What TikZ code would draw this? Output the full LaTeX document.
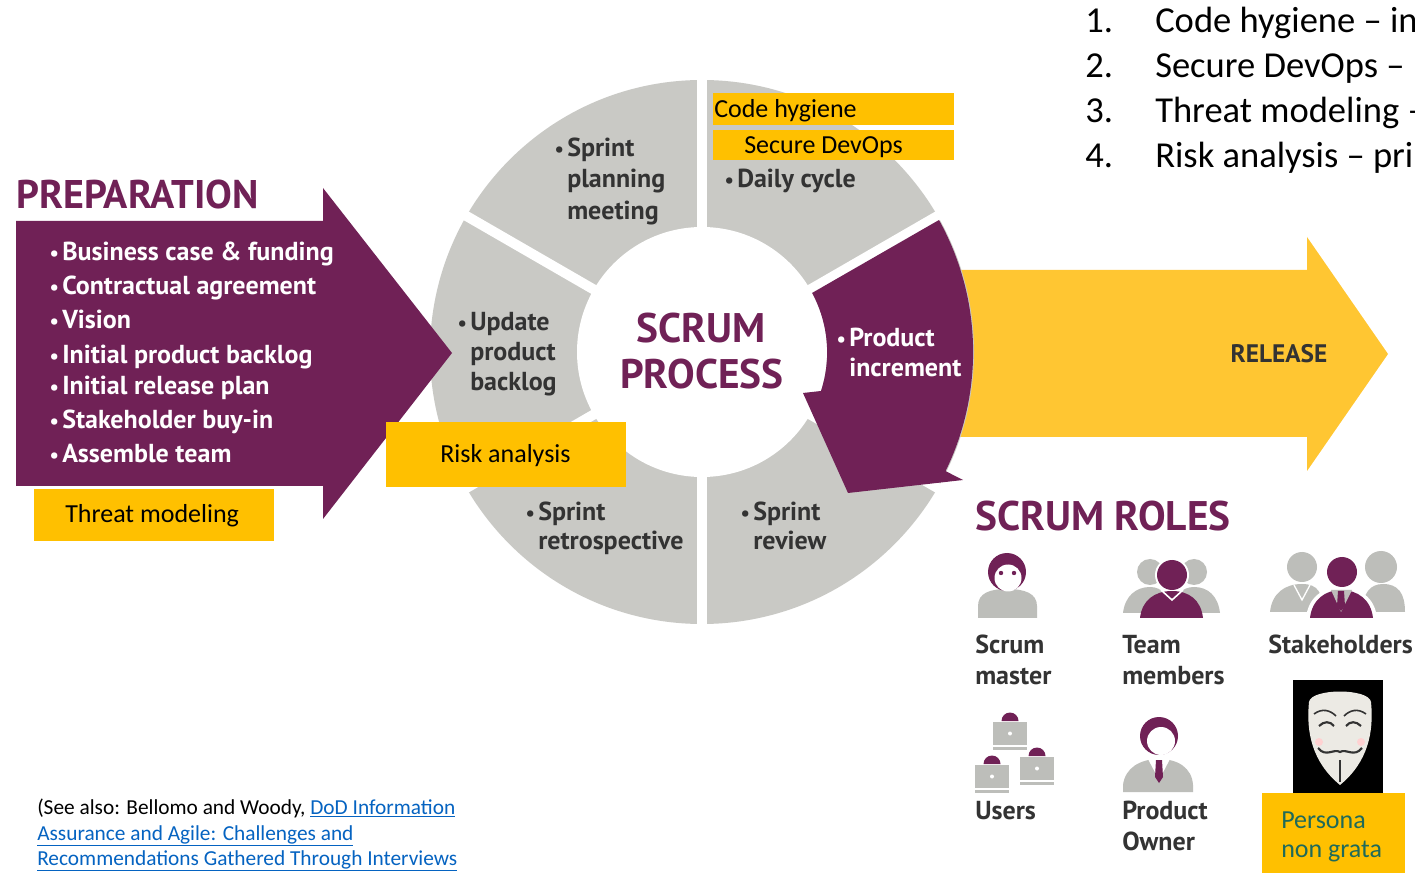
\documentclass[tikz,border=0pt]{standalone}
\usepackage{fontspec}
\setmainfont{Carlito}
\newfontfamily\frank{PT Sans}
\usetikzlibrary{calc}
\definecolor{scrumpurple}{HTML}{702156}
\definecolor{wheelgray}{HTML}{C9C9C5}
\definecolor{icongray}{HTML}{BDBEBA}
\definecolor{releaseyellow}{HTML}{FFC632}
\definecolor{markyellow}{HTML}{FFC000}
\definecolor{linkblue}{HTML}{0563C1}
\definecolor{textgray}{HTML}{333333}
\definecolor{personagreen}{HTML}{1F6A5A}
\definecolor{maskwhite}{HTML}{ECEAE4}
\newcommand\bul{\llap{\scalebox{0.8}{•}\hspace{2.5pt}}}
\tikzset{
	prepitem/.style={anchor=base west, inner sep=0pt, text=white,
		font=\frank\bfseries\fontsize{19.5}{22}\selectfont},
	wheelitem/.style={anchor=base west, inner sep=0pt, text=textgray,
		font=\frank\bfseries\fontsize{19.5}{22}\selectfont},
	heading/.style={anchor=base west, inner sep=0pt, text=scrumpurple,
		font=\frank\bfseries\fontsize{31}{34}\selectfont},
	markbox/.style={fill=markyellow},
	marktext/.style={anchor=base west, inner sep=0pt,
		font=\fontsize{19.5}{23}\selectfont},
	rolelabel/.style={anchor=base west, inner sep=0pt, text=textgray,
		font=\frank\bfseries\fontsize{19.5}{22}\selectfont},
	listtext/.style={anchor=base west, inner sep=0pt,
		font=\fontsize{27.4}{33}\selectfont},
	notetext/.style={anchor=base west, inner sep=0pt,
		font=\fontsize{16}{19}\selectfont},
}
\begin{document}
\begin{tikzpicture}[x=0.75pt, y=-0.75pt]
	\clip (0,0) rectangle (1415,873);
	\fill[white] (0,0) rectangle (1415,873);
	% release arrow
	\fill[releaseyellow] (955,270) -- (1307,270) -- (1307,237) -- (1388,354)
		-- (1307,471) -- (1307,437) -- (955,437) -- cycle;
	\node[font=\frank\bfseries\fontsize{19}{22}\selectfont, text=textgray, anchor=base, inner sep=0pt]
		(release) at (1279,363) {RELEASE};
	% scrum wheel
	\coordinate (c) at (702,352);
	\fill[wheelgray] (c) circle (272);
	\foreach \a in {30,90,...,330}
		\draw[white, line width=7.5pt] (c) -- ++(\a:290);
	\fill[white] (c) circle (125);
	\fill[scrumpurple] (812,293) -- (939,220) arc[start angle=-29, end angle=26, radius=272]
		-- (963,480) -- (848,493) -- (803,393) -- (821,391)
		arc[start angle=18, end angle=-28, radius=125] -- cycle;
	% preparation arrow
	\fill[scrumpurple] (16,221) -- (323,221) -- (323,188) -- (452,353)
		-- (323,519) -- (323,486) -- (16,486) -- cycle;
	\node[heading, font=\frank\bfseries\fontsize{30}{34}\selectfont] (prep) at (16,209) {PREPARATION};
	\foreach \y/\txt in {261/Business case \& funding, 295/Contractual agreement,
		329/Vision, 364/Initial product backlog, 395/Initial release plan,
		429/Stakeholder buy-in, 463/Assemble team}
		\node[prepitem] at (62,\y) {\bul\txt};
	% wheel texts
	\node[wheelitem] (plan1) at (567,157) {\bul Sprint};
	\node[wheelitem] (plan2) at (567,188) {planning};
	\node[wheelitem] (plan3) at (567,220) {meeting};
	\node[wheelitem] (daily) at (737,188) {\bul Daily cycle};
	\node[wheelitem] (upd1) at (470,331) {\bul Update};
	\node[wheelitem] (upd2) at (470,361) {product};
	\node[wheelitem] (upd3) at (470,391) {backlog};
	\node[wheelitem, text=white] (inc1) at (849,347) {\bul Product};
	\node[wheelitem, text=white] (inc2) at (849,377) {increment};
	\node[wheelitem] (retro1) at (538,521) {\bul Sprint};
	\node[wheelitem] (retro2) at (538,550) {retrospective};
	\node[wheelitem] (rev1) at (753,521) {\bul Sprint};
	\node[wheelitem] (rev2) at (753,550) {review};
	\node[heading, anchor=base] (scrum) at (701,343) {SCRUM};
	\node[heading, anchor=base] (process) at (702,389) {PROCESS};
	% yellow marks
	\fill[markyellow] (713,93) rectangle (954,125);
	\fill[markyellow] (713,130) rectangle (954,160);
	\fill[markyellow] (386,422) rectangle (626,487);
	\fill[markyellow] (34,489) rectangle (274,541);
	\node[marktext] (hyg) at (714,118) {Code hygiene};
	\node[marktext] (devops) at (744,154) {Secure DevOps};
	\node[marktext] (risk) at (440,463) {Risk analysis};
	\node[marktext] (threat) at (65,523) {Threat modeling};
	% numbered list
	\foreach \y/\n/\txt in {33/1./Code hygiene -- in, 78/2./Secure DevOps --,
		123/3./Threat modeling --, 168/4./Risk analysis -- pri}{
		\node[listtext] at (1085,\y) {\n};
		\node[listtext] at (1155,\y) {\txt};
	}
	% scrum roles
	\node[heading] (roles) at (975,531) {SCRUM ROLES};
	% scrum master
	\fill[icongray] (978,618) -- (978,606) .. controls (978,593) and (990,589) .. (1007,589)
		.. controls (1024,589) and (1037,593) .. (1037,606) -- (1037,618) -- cycle;
	\fill[scrumpurple] (1007,572) circle (19);
	\fill[white] (1008,578) circle (13.5);
	\fill[scrumpurple] (1001,573) circle (2.2) (1014,573) circle (2.2);
	% team members
	\fill[icongray] (1123,613) .. controls (1125,596) and (1136,587) .. (1150,587)
		.. controls (1162,587) and (1170,596) .. (1173,613) -- cycle;
	\fill[icongray] (1170,613) .. controls (1173,596) and (1182,587) .. (1194,587)
		.. controls (1208,587) and (1218,596) .. (1220,613) -- cycle;
	\fill[icongray] (1150,572) circle (13) (1194,572) circle (13);
	\fill[white] (1172,575) circle (17);
	\fill[scrumpurple] (1140,618) .. controls (1142,600) and (1155,591) .. (1172,591)
		.. controls (1189,591) and (1201,600) .. (1203,618) -- cycle;
	\fill[scrumpurple] (1172,575) circle (15);
	\draw[white, line width=1.2pt] (1161,590) -- (1172,600) -- (1183,590);
	% stakeholders
	\fill[icongray] (1270,612) .. controls (1272,593) and (1285,584) .. (1302,584)
		.. controls (1318,584) and (1323,593) .. (1323,612) -- cycle;
	\fill[icongray] (1362,612) .. controls (1363,593) and (1370,584) .. (1383,584)
		.. controls (1398,584) and (1405,593) .. (1405,612) -- cycle;
	\fill[icongray] (1302,567) circle (15) (1381,567) circle (16);
	\draw[white, line width=1pt] (1294,585) -- (1302,600) -- (1310,585);
	\fill[white] (1342,572) circle (17);
	\fill[white] (1306,618) .. controls (1308,598) and (1322,587) .. (1341,587)
		.. controls (1360,587) and (1375,598) .. (1377,618) -- cycle;
	\fill[scrumpurple] (1310,618) .. controls (1312,600) and (1325,590) .. (1341,590)
		.. controls (1358,590) and (1371,600) .. (1373,618) -- cycle;
	\fill[scrumpurple] (1342,572) circle (15);
	\fill[icongray] (1331,590) -- (1341,612) -- (1352,590) -- cycle;
	\fill[scrumpurple] (1338,591) -- (1344,591) -- (1345,606) -- (1341,611) -- (1337,606) -- cycle;
	% users
	\foreach \x/\y in {993/722, 975/765, 1020/757}{
		\fill[icongray] (\x,\y) rectangle ++(34,23);
		\fill[icongray] (\x,\y+25) rectangle ++(34,3);
		\fill[white] (\x+17,\y+11.5) circle (2);
		\fill[scrumpurple] (\x+8.5,\y-1) arc[start angle=180, end angle=360, radius=8.5];
	}
	% product owner
	\fill[icongray] (1123,792) -- (1123,785) .. controls (1125,768) and (1140,759) .. (1159,759)
		.. controls (1178,759) and (1192,768) .. (1193,785) -- (1193,792) -- cycle;
	\fill[white] (1148,759) -- (1159,780) -- (1170,759) -- cycle;
	\fill[scrumpurple] (1156,760) -- (1162,760) -- (1163,777) -- (1159,783) -- (1155,777) -- cycle;
	\fill[scrumpurple] (1159,736) circle (19);
	\fill[white] (1161,741) circle (14);
	% persona non grata
	\fill[black] (1293,680) rectangle (1383,793);
	\fill[maskwhite] (1309,702) .. controls (1311,688) and (1369,688) .. (1371,702)
		.. controls (1374,732) and (1368,762) .. (1340,785)
		.. controls (1312,762) and (1306,732) .. (1309,702) -- cycle;
	\fill[pink!70] (1319,742) circle (4) (1361,742) circle (4);
	\draw[black!80, line width=1.2pt] (1314,714) .. controls (1322,708) and (1330,710) .. (1336,716);
	\draw[black!80, line width=1.2pt] (1344,716) .. controls (1350,710) and (1358,708) .. (1366,714);
	\draw[black!80, line width=1.6pt] (1319,726) .. controls (1324,721) and (1330,721) .. (1334,726);
	\draw[black!80, line width=1.6pt] (1346,726) .. controls (1350,721) and (1356,721) .. (1361,726);
	\draw[black!80, line width=1.6pt] (1318,748) .. controls (1326,758) and (1334,748) .. (1340,752)
		.. controls (1346,748) and (1354,758) .. (1362,748);
	\draw[black!80, line width=1.8pt] (1340,760) -- (1340,782);
	\fill[markyellow] (1262,793) rectangle (1405,873);
	\node[marktext, text=personagreen] (persona1) at (1281,828) {Persona};
	\node[marktext, text=personagreen] (persona2) at (1281,857) {non grata};
	% role labels
	\node[rolelabel] (sm1) at (975,653) {Scrum};
	\node[rolelabel] (sm2) at (975,684) {master};
	\node[rolelabel] (tm1) at (1122,653) {Team};
	\node[rolelabel] (tm2) at (1122,684) {members};
	\node[rolelabel] (sh) at (1268,653) {Stakeholders};
	\node[rolelabel] (users) at (975,819) {Users};
	\node[rolelabel] (po1) at (1122,819) {Product};
	\node[rolelabel] (po2) at (1122,850) {Owner};
	% note
	\node[notetext] (note1) at (37,814) {(See also: Bellomo and Woody, \textcolor{linkblue}{\underline{DoD Information}}};
	\node[notetext, text=linkblue] (note2) at (37,840) {\underline{Assurance and Agile: Challenges and}};
	\node[notetext, text=linkblue] (note3) at (37,865) {\underline{Recommendations Gathered Through Interviews}};
\end{tikzpicture}
\end{document}
